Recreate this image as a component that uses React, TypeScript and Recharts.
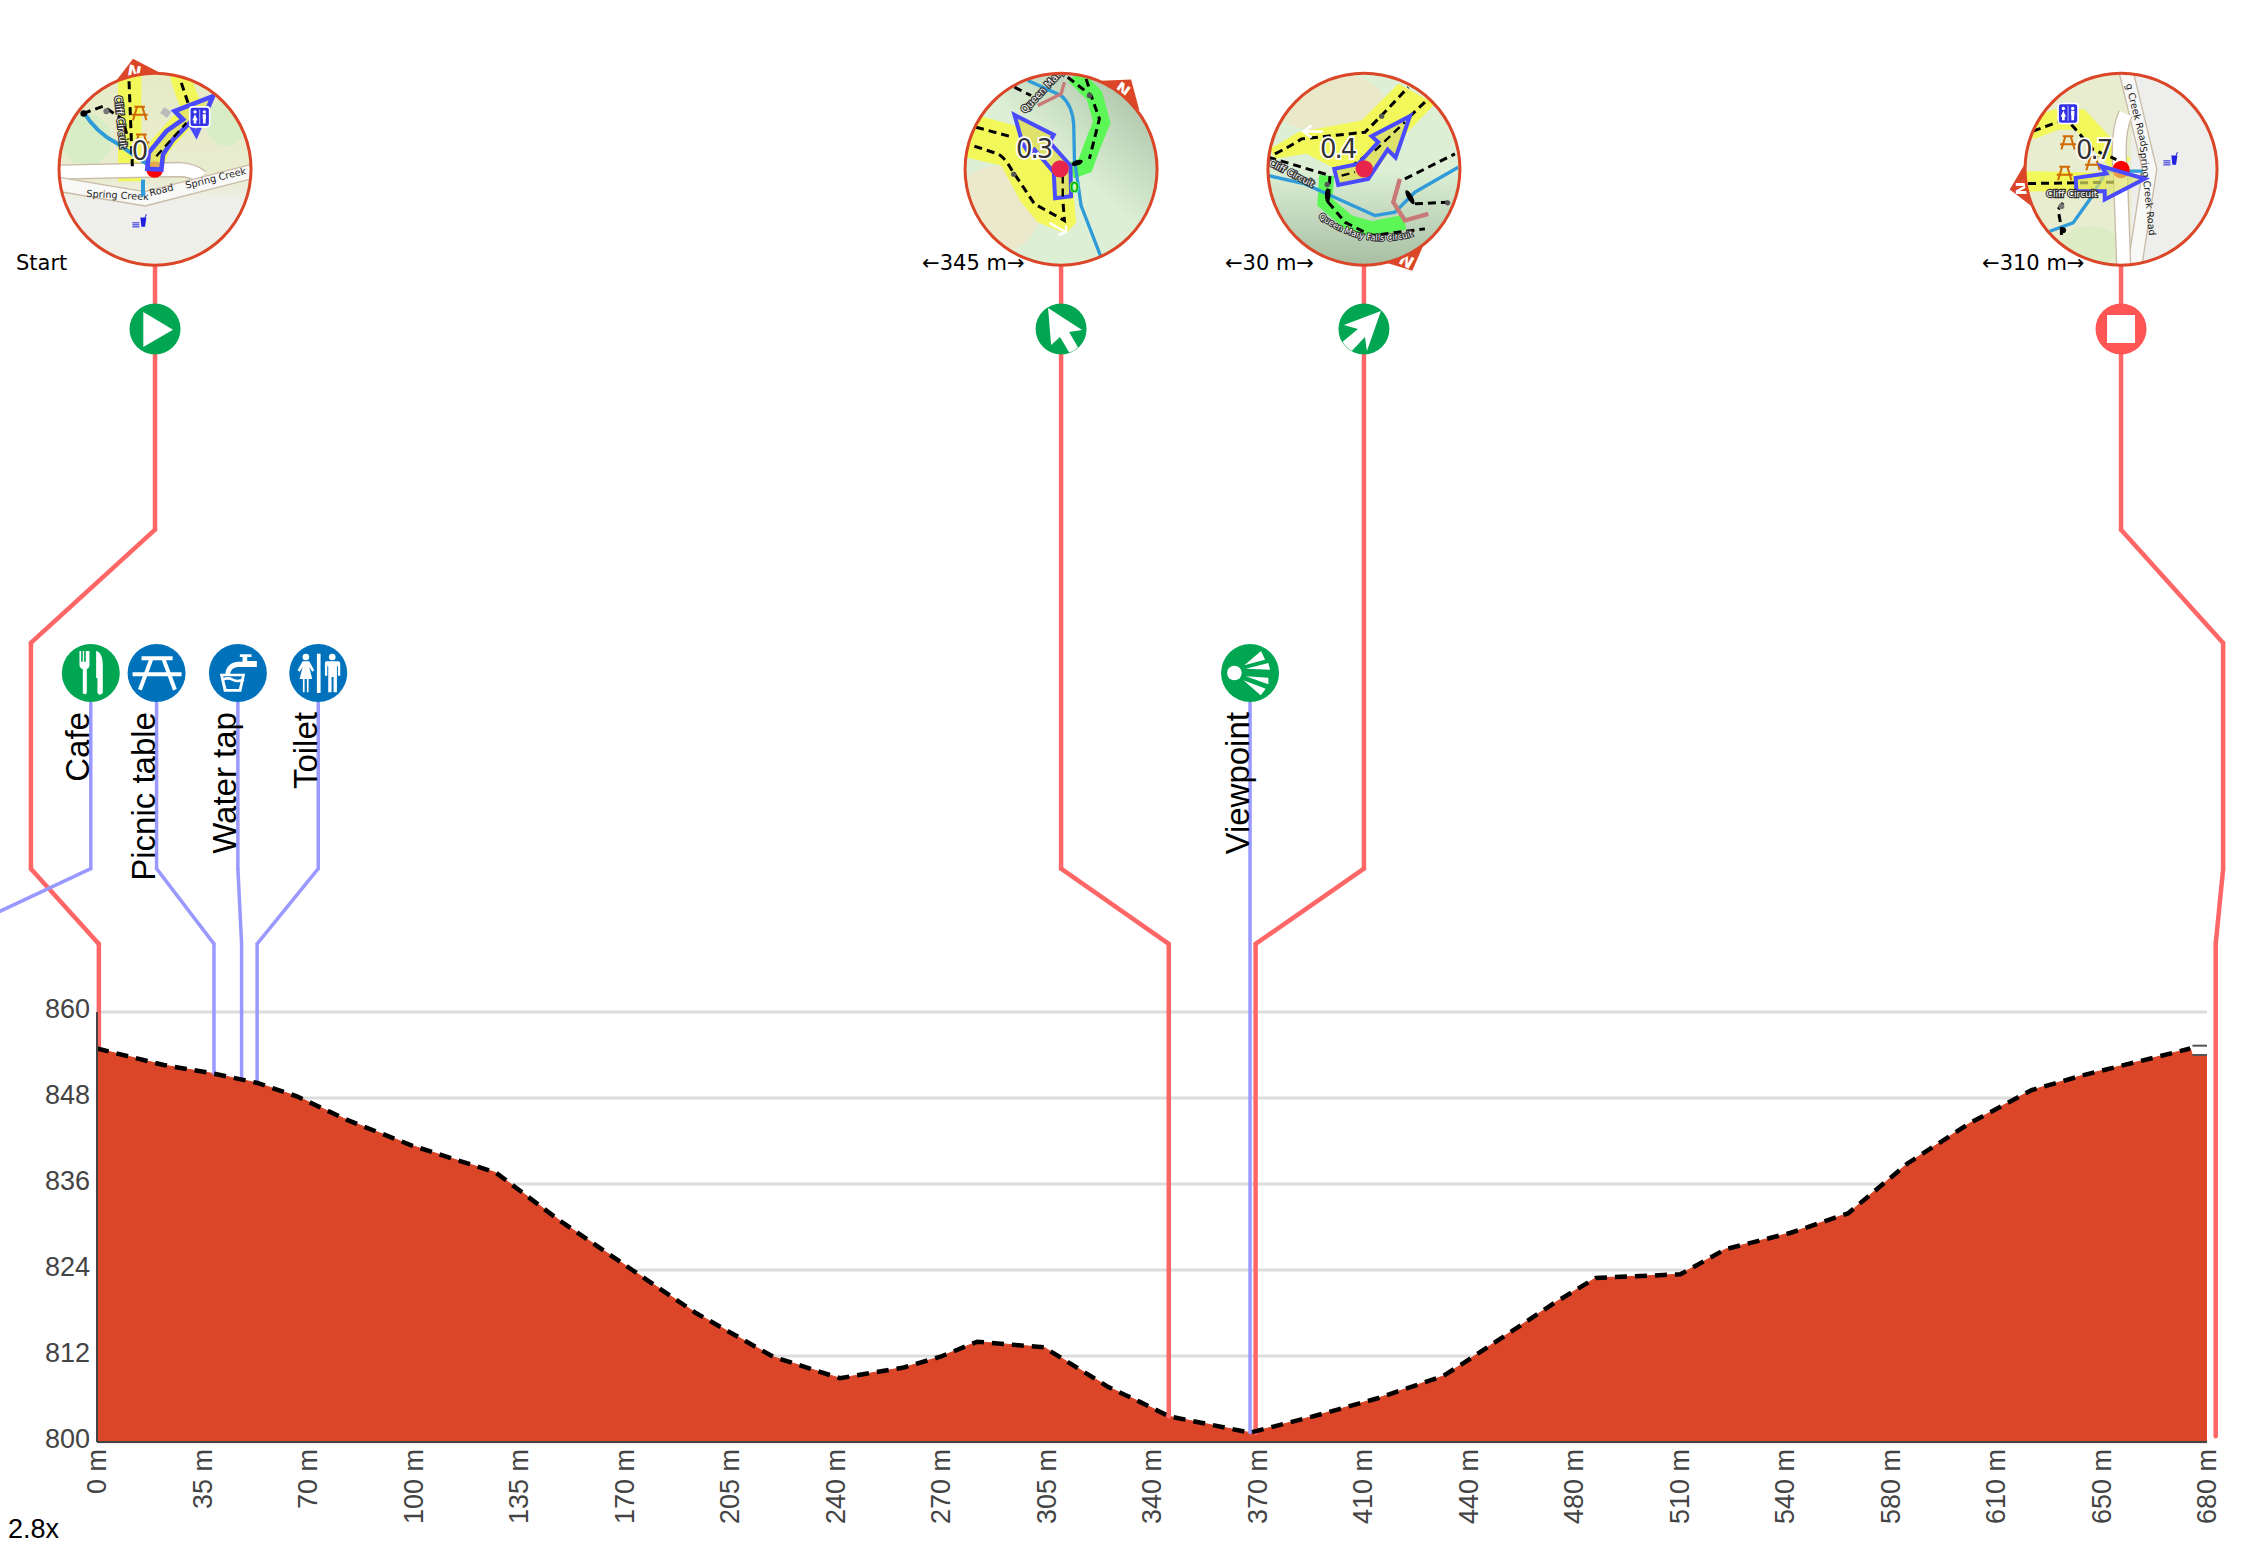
import React from "react";
import {
  Area,
  CartesianGrid,
  ComposedChart,
  Line,
  ReferenceDot,
  ReferenceLine,
  XAxis,
  YAxis,
} from "recharts";

const distances = [
  0, 21.5, 37.7, 51.7, 64.6, 80.8, 101.3, 128.5, 148.8, 172.5, 193, 217.9, 239.4, 260, 271.8, 283.7, 305.3, 325.8,
  336.1, 345.4, 371.6, 393.8, 412.7, 433.8, 439.3, 458.2, 469.3, 483, 510.3, 524.8, 545.9, 564.3, 583.6, 603.6, 623.5,
  640.2, 658, 674.6, 675.3, 680,
];
const elevations = [
  854.9, 852.6, 851.4, 850.1, 848.2, 844.9, 841.4, 837.6, 831, 824, 818, 811.9, 808.9, 810.4, 811.9, 814, 813.2, 807.7,
  805.6, 803.6, 801.3, 803.8, 806.1, 809.2, 810.7, 816.1, 819.3, 822.9, 823.4, 826.9, 829.2, 831.9, 838.9, 844.5, 849.1,
  851.2, 853.1, 854.9, 854, 854,
];
const xTicks = [0, 34, 68, 102, 136, 170, 204, 238, 272, 306, 340, 374, 408, 442, 476, 510, 544, 578, 612, 646, 680];
const xTickLabels = [
  "0 m", "35 m", "70 m", "100 m", "135 m", "170 m", "205 m", "240 m", "270 m", "305 m", "340 m", "370 m", "410 m",
  "440 m", "480 m", "510 m", "540 m", "580 m", "610 m", "650 m", "680 m",
];
const yTicks = [800, 812, 824, 836, 848, 860];

const chartData = distances.map((d, i) => ({
  d,
  elevation: elevations[i],
  ridge: i < distances.length - 2 ? elevations[i] : null,
}));

// leader lines, [metres, elevation]
const redLeaders = [
  [[18.7, 964], [18.7, 927.3], [-21.3, 911.5], [-21.3, 880], [0.6, 869.5], [0.6, 855]],
  [[310.7, 964], [310.7, 880], [345.4, 869.5], [345.4, 803.6]],
  [[408.3, 964], [408.3, 880], [373.4, 869.5], [373.4, 801.3]],
  [[652.3, 964], [652.3, 927.3], [685.2, 911.5], [685.2, 880], [682.8, 869.5], [682.8, 800.8]],
];
const poiLeaders = [
  [[-2, 907.3], [-2, 880], [-34.5, 873.4]],
  [[19.2, 907.3], [19.2, 880], [37.7, 869.5], [37.7, 851.4]],
  [[45.4, 907.3], [45.4, 880], [46.6, 869.5], [46.6, 850.7]],
  [[71.3, 907.3], [71.3, 880], [51.6, 869.5], [51.6, 850.1]],
  [[371.6, 907.3], [371.6, 801.3]],
];
const poiNames = ["Cafe", "Picnic table", "Water tap", "Toilet", "Viewpoint"];
const poiX = [-2, 19.2, 45.4, 71.3, 371.6];
const turnX = [18.7, 310.7, 408.3, 652.3];
const turnNames = ["Start", "←345 m→", "←30 m→", "←310 m→"];

const POI_Y = 907.3;
const TURN_Y = 955.3;
const MAP_Y = 977.6;

const SANS = "'Liberation Sans', Arial, sans-serif";
const DEJAVU = "'DejaVu Sans', sans-serif";
const RED = "#ff6666";
const BLUE = "#9999ff";
const ORANGE = "#da4627";
const GREEN = "#00a651";
const POI_BLUE = "#0072bc";
const YELLOW = "#f2f75a";
const LIME = "#5cf757";
const RIVER = "#2f9bd8";
const ROUTE = "#4a4aff";

function XTick({ x, y, payload }: any) {
  return (
    <text
      transform={`translate(${x},${y - 1}) rotate(-90)`}
      y={9}
      textAnchor="end"
      fontFamily={SANS}
      fontSize={27}
      fill="#444"
    >
      {xTickLabels[payload.index]}
    </text>
  );
}

function YTick({ x, y, payload }: any) {
  return (
    <text x={x + 1} y={y + 6} textAnchor="end" fontFamily={SANS} fontSize={27} fill="#444">
      {payload.value}
    </text>
  );
}

function Dash({ d, w = 9 }: any) {
  return <path d={d} fill="none" stroke="#000" strokeWidth={w} strokeDasharray="24 15" />;
}

function MapLabel({ children, ...rest }: any) {
  return (
    <text
      fontFamily={DEJAVU}
      fontSize={29}
      fill="#fff"
      stroke="#333"
      strokeWidth={7}
      paintOrder="stroke"
      {...rest}
    >
      {children}
    </text>
  );
}

function Number_({ x, y, children }: any) {
  return (
    <text
      x={x}
      y={y}
      textAnchor="middle"
      fontFamily={DEJAVU}
      fontSize={78}
      letterSpacing={-6}
      fill="#333"
      stroke="#fff"
      strokeWidth={10}
      paintOrder="stroke"
    >
      {children}
    </text>
  );
}

function Picnic({ x, y, c = "#d06a00" }: any) {
  return (
    <g transform={`translate(${x},${y})`} stroke={c} strokeWidth={6} fill="none">
      <path d="M-16 -20H16M-24 4H24M-8 -20L-20 20M8 -20L20 20" />
    </g>
  );
}

function ToiletBadge({ x, y }: any) {
  return (
    <g transform={`translate(${x},${y})`}>
      <rect x={-30} y={-30} width={60} height={60} rx={9} fill="#3333e6" stroke="#fff" strokeWidth={5} />
      <circle cx={-14} cy={-15} r={5} fill="#fff" />
      <circle cx={14} cy={-15} r={5} fill="#fff" />
      <path d="M-14 -8L-6 10H-10V20H-18V10H-22ZM9 -8H19V6H18V20H10V6H9Z" fill="#fff" />
      <path d="M0 -22V22" stroke="#fff" strokeWidth={2} />
    </g>
  );
}

function CafeBadge({ x, y }: any) {
  return (
    <g transform={`translate(${x},${y})`} fill="#2020e0">
      <path d="M0 -14H18L14 14H3Z" />
      <path d="M-24 2H-3M-24 8H-3M-24 14H-3M14 -14L18 -24" stroke="#2020e0" strokeWidth={3} />
    </g>
  );
}

// thumbnails are painted in zoomed up units (3 per pixel) around ox, oy
function Thumb({ cx, cy, ox, oy, id, pointer, back, children }: any) {
  return (
    <g transform={`translate(${cx},${cy}) scale(${1 / 3}) translate(${-ox},${-oy})`}>
      <clipPath id={id}>
        <circle cx={ox} cy={oy} r={288} />
      </clipPath>
      {pointer}
      <g clipPath={`url(#${id})`}>
        <circle cx={ox} cy={oy} r={288} fill={back} />
        {children}
      </g>
      <circle cx={ox} cy={oy} r={288} fill="none" stroke={ORANGE} strokeWidth={9} />
    </g>
  );
}

function MapStart({ cx, cy }: any) {
  return (
    <Thumb
      cx={cx}
      cy={cy}
      ox={466}
      oy={389}
      id="m0"
      back="url(#m0bg)"
      pointer={
        <g>
          <path d="M345 130L400 58L485 102Z" fill={ORANGE} />
          <text x={404} y={114} textAnchor="middle" fontFamily={DEJAVU} fontWeight="bold" fontSize={50} fill="#fff" transform="rotate(10 404 96)">N</text>
        </g>
      }
    >
      <defs>
        <linearGradient id="m0bg" x1="0" y1="0" x2="0" y2="1">
          <stop offset="0%" stopColor="#e6ebc6" />
          <stop offset="55%" stopColor="#e9ecd0" />
          <stop offset="68%" stopColor="#efefed" />
          <stop offset="100%" stopColor="#eeefe6" />
        </linearGradient>
      </defs>
      <ellipse cx={260} cy={300} rx={75} ry={80} fill="#d8ecc6" />
      <ellipse cx={680} cy={250} rx={60} ry={70} fill="#d8ecc6" />
      <path d="M390 100V425" stroke={YELLOW} strokeWidth={70} fill="none" />
      <path d="M540 100Q555 160 580 210L480 320L455 400" stroke={YELLOW} strokeWidth={62} fill="none" />
      <path d="M180 398L540 390Q580 392 605 412" stroke="#c8bba8" strokeWidth={46} fill="none" />
      <path d="M180 398L540 390Q580 392 605 412" stroke="#fff" strokeWidth={38} fill="none" />
      <path d="M180 435L435 478L760 395" stroke="#c8bba8" strokeWidth={46} fill="none" />
      <path d="M180 435L435 478L760 395" stroke="#f8f8f6" strokeWidth={38} fill="none" />
      <text x={260} y={472} fontFamily={DEJAVU} fontSize={29} fill="#222" transform="rotate(3 260 472)">Spring Creek</text>
      <text x={452} y={470} fontFamily={DEJAVU} fontSize={29} fill="#222" transform="rotate(-14 452 470)">Road</text>
      <text x={560} y={448} fontFamily={DEJAVU} fontSize={29} fill="#222" transform="rotate(-14 560 448)">Spring Creek</text>
      <path d="M250 215Q290 280 350 310L440 372M430 420V470" stroke={RIVER} strokeWidth={12} fill="none" />
      <Dash d="M388 125L398 380" />
      <Dash d="M545 130L565 190" />
      <Dash d="M250 222L310 200L370 240L385 300" />
      <circle cx={252} cy={222} r={10} fill="#000" />
      <circle cx={320} cy={215} r={9} fill="#777" />
      <rect x={485} y={208} width={26} height={22} fill="#bbb" transform="rotate(35 498 219)" />
      <Picnic x={420} y={222} />
      <Picnic x={425} y={305} />
      <MapLabel x={345} y={170} transform="rotate(84 345 170)">Cliff Circuit</MapLabel>
      <circle cx={465} cy={390} r={25} fill="#f00" />
      <path
        d="M443 388L447 340L500 275L550 240L525 215L640 170L590 285L570 250L520 300L490 345L485 390Z"
        fill="#dfe26a"
        fillOpacity={0.75}
        stroke={ROUTE}
        strokeWidth={14}
      />
      <Dash d="M470 350L560 250" w={7} />
      <ToiletBadge x={600} y={232} />
      <CafeBadge x={422} y={548} />
      <Number_ x={418} y={360}>0</Number_>
    </Thumb>
  );
}

function MapTurnA({ cx, cy }: any) {
  return (
    <Thumb
      cx={cx}
      cy={cy}
      ox={320}
      oy={331}
      id="m1"
      back="url(#m1bg)"
      pointer={
        <g>
          <path d="M440 66L530 62L555 155Z" fill={ORANGE} />
          <text x={505} y={110} textAnchor="middle" fontFamily={DEJAVU} fontWeight="bold" fontSize={50} fill="#fff" transform="rotate(35 505 92)">N</text>
        </g>
      }
    >
      <defs>
        <linearGradient id="m1bg" x1="0.95" y1="0.05" x2="0.55" y2="0.5">
          <stop offset="0%" stopColor="#a8bfa4" />
          <stop offset="100%" stopColor="#ddf0d6" />
        </linearGradient>
      </defs>
      <ellipse cx={130} cy={450} rx={130} ry={130} fill="#ece8cc" />
      <path d="M80 172L180 200L290 290L355 375L365 490L335 525L250 490L200 430L140 320L30 295L30 200Z" fill={YELLOW} />
      <path d="M360 50L420 110L442 190L412 265L392 320L350 335" stroke={LIME} strokeWidth={50} fill="none" />
      <path d="M220 65L320 110Q355 140 358 200L360 300L380 440L438 590" stroke={RIVER} strokeWidth={10} fill="none" />
      <path d="M330 70L320 105L250 140" stroke="#c97a78" strokeWidth={10} fill="none" />
      <Dash d="M65 205L175 235" />
      <Dash d="M60 262L130 285Q150 295 170 330L240 435L330 485L325 420" />
      <Dash d="M180 85L230 110" />
      <Dash d="M340 55L410 110L435 180L405 300" />
      <Dash d="M395 60L405 90" />
      <circle cx={178} cy={346} r={8} fill="#555" />
      <circle cx={405} cy={110} r={8} fill="#555" />
      <ellipse cx={368} cy={312} rx={18} ry={8} fill="#000" transform="rotate(-20 368 312)" />
      <MapLabel x={212} y={165} transform="rotate(-47 212 165)">Queen Mary</MapLabel>
      <path d="M285 492L335 520M335 500L335 520L312 528" stroke="#fff" strokeWidth={7} fill="none" />
      <path
        d="M180 168L298 228L285 250L348 320L350 412L302 418L298 340L240 272L225 285L205 255Z"
        fill="#dfe26a"
        stroke={ROUTE}
        strokeWidth={12}
      />
      <Dash d="M325 350V420" w={7} />
      <circle cx={317} cy={330} r={26} fill="#e8254a" />
      <Number_ x={238} y={298}>0.3</Number_>
      <text x={360} y={400} textAnchor="middle" fontFamily={DEJAVU} fontSize={44} fill="#0a0" stroke={LIME} strokeWidth={5} paintOrder="stroke">0</text>
    </Thumb>
  );
}

function MapTurnB({ cx, cy }: any) {
  return (
    <Thumb
      cx={cx}
      cy={cy}
      ox={317}
      oy={331}
      id="m2"
      back="url(#m2bg)"
      pointer={
        <g>
          <path d="M385 612L495 560L462 636Z" fill={ORANGE} />
          <text x={446} y={622} textAnchor="middle" fontFamily={DEJAVU} fontWeight="bold" fontSize={50} fill="#fff" transform="rotate(-150 446 605)">N</text>
        </g>
      }
    >
      <defs>
        <linearGradient id="m2bg" x1="0.5" y1="1" x2="0.5" y2="0.5">
          <stop offset="0%" stopColor="#a8bfa4" />
          <stop offset="100%" stopColor="#ddf0d6" />
        </linearGradient>
      </defs>
      <ellipse cx={210} cy={130} rx={170} ry={90} fill="#e9e8c8" />
      <path d="M35 270L120 220L310 185L420 75L530 135L400 270L350 340L240 370L230 330L145 285L50 300Z" fill={YELLOW} />
      <path d="M205 350L200 430L270 490L340 510L440 490" stroke={LIME} strokeWidth={45} fill="none" />
      <path d="M30 350L140 375L250 425L350 470L410 460L470 400L600 325" stroke={RIVER} strokeWidth={10} fill="none" />
      <path d="M425 360L405 430L440 485L510 465" stroke="#c97a78" strokeWidth={13} fill="none" />
      <Dash d="M50 285Q100 260 130 240L320 220L370 170L450 85" />
      <Dash d="M500 130L350 270L250 345" />
      <Dash d="M30 295L215 350L210 430L260 490L340 530L500 510" />
      <Dash d="M440 360L590 285" />
      <Dash d="M470 435L570 430" />
      <ellipse cx={208} cy={410} rx={22} ry={8} fill="#000" transform="rotate(90 208 410)" />
      <ellipse cx={455} cy={415} rx={24} ry={8} fill="#000" transform="rotate(60 455 415)" />
      <circle cx={370} cy={172} r={8} fill="#555" />
      <circle cx={207} cy={377} r={8} fill="#555" />
      <circle cx={568} cy={432} r={8} fill="#555" />
      <MapLabel x={30} y={318} fontSize={27} transform="rotate(27 30 318)">Cliff Circuit</MapLabel>
      <defs>
        <path id="m2road" d="M180 475Q330 590 505 518" />
      </defs>
      <MapLabel fontSize={25} strokeWidth={6}>
        <textPath href="#m2road">Queen Mary Falls Circuit</textPath>
      </MapLabel>
      <path d="M135 218H195M160 200L135 218L160 236" stroke="#fff" strokeWidth={7} fill="none" />
      <path
        d="M228 330L300 315L360 250L340 232L455 172L412 296L388 272L330 360L240 378Z"
        fill="#dfe26a"
        stroke={ROUTE}
        strokeWidth={12}
      />
      <Dash d="M250 350L290 340M350 275L440 190" w={7} />
      <circle cx={318} cy={330} r={26} fill="#e8254a" />
      <Number_ x={238} y={298}>0.4</Number_>
    </Thumb>
  );
}

function MapEnd({ cx, cy }: any) {
  return (
    <Thumb
      cx={cx}
      cy={cy}
      ox={514}
      oy={389}
      id="m3"
      back="#e9edd0"
      pointer={
        <g>
          <path d="M226 372L180 450L248 502Z" fill={ORANGE} />
          <text x={216} y={465} textAnchor="middle" fontFamily={DEJAVU} fontWeight="bold" fontSize={50} fill="#fff" transform="rotate(-90 216 447)">N</text>
        </g>
      }
    >
      <rect x={545} y={90} width={270} height={600} fill="#eeefed" />
      <ellipse cx={420} cy={620} rx={90} ry={60} fill="#dcecc4" />
      <path d="M240 270L320 240L390 240L520 380" stroke={YELLOW} strokeWidth={62} fill="none" />
      <path d="M225 425L470 430" stroke={YELLOW} strokeWidth={60} fill="none" />
      <path d="M530 100L600 390L555 680" stroke="#c8bba8" strokeWidth={46} fill="none" />
      <path d="M530 100L600 390L555 680" stroke="#f8f8f6" strokeWidth={38} fill="none" />
      <path d="M528 222Q500 280 512 400L522 680" stroke="#c8bba8" strokeWidth={46} fill="none" />
      <path d="M528 222Q500 280 512 400L522 680" stroke="#fff" strokeWidth={38} fill="none" />
      <path d="M300 575L370 550L420 480L470 395L580 395" stroke={RIVER} strokeWidth={10} fill="none" />
      <Dash d="M250 275L330 245" />
      <Dash d="M365 255L430 330L500 360" />
      <Dash d="M235 432L500 428" />
      <Dash d="M340 490L325 510L335 565L335 595" />
      <circle cx={340} cy={572} r={9} fill="#000" />
      <circle cx={335} cy={500} r={9} fill="#777" />
      <Picnic x={355} y={310} />
      <Picnic x={430} y={372} />
      <Picnic x={345} y={402} />
      <ToiletBadge x={355} y={222} />
      <CafeBadge x={665} y={362} />
      <text x={528} y={135} fontFamily={DEJAVU} fontSize={29} fill="#222" transform="rotate(76 528 135)">g Creek Road</text>
      <text x={570} y={322} fontFamily={DEJAVU} fontSize={29} fill="#222" transform="rotate(84 570 322)">Spring Creek Road</text>
      <circle cx={514} cy={390} r={26} fill="#f00" />
      <path
        d="M378 415L470 402L455 380L585 418L465 480L465 455L380 455Z"
        fill="#dfe26a"
        fillOpacity={0.7}
        stroke={ROUTE}
        strokeWidth={12}
      />
      <MapLabel x={290} y={472} fontSize={28}>Cliff Circuit</MapLabel>
      <Number_ x={432} y={358}>0.7</Number_>
    </Thumb>
  );
}

const mapShapes = [MapStart, MapTurnA, MapTurnB, MapEnd];

function TurnIcon({ cx, cy, index }: any) {
  const fill = index === 3 ? "#ff5555" : GREEN;
  const id = `ti${index}`;
  return (
    <g transform={`translate(${cx},${cy})`}>
      <clipPath id={id}>
        <circle r={25} />
      </clipPath>
      <circle r={25.5} fill={fill} />
      <g clipPath={`url(#${id})`} fill="#fff">
        {index === 0 && <path d="M-11.7 -17L18 0.7L-11.7 18Z" />}
        {index === 1 && <path d="M-13 -21L21 1L8 3L19 22L9 25L-1 8L-10 16Z" />}
        {index === 2 && <path d="M17 -18L-20 -4L-6 0L-24 15L-15 25L1 8L3 22Z" />}
        {index === 3 && <rect x={-14} y={-14} width={28} height={28} />}
      </g>
    </g>
  );
}

function PoiIcon({ cx, cy, index }: any) {
  const fill = index === 0 || index === 4 ? GREEN : POI_BLUE;
  return (
    <g transform={`translate(${cx},${cy}) scale(${1 / 3})`}>
      <circle r={87} fill={fill} />
      <g fill="#fff" stroke="none">
        {index === 0 && (
          <g>
            <path d="M-34 -66H-29V-34H-24V-66H-20V-34H-15V-66H-4V-25Q-4 -15 -12 -12V60Q-18 68 -24 60V-12Q-34 -15 -34 -25Z" />
            <path d="M16 -66Q36 -62 36 -20V60Q26 70 20 60V15H16Z" />
          </g>
        )}
        {index === 1 && (
          <g stroke="#fff" fill="none" strokeWidth={12}>
            <path d="M-45 -44H48M-72 4H75M-15 -44L-50 50M20 -44L55 50" />
          </g>
        )}
        {index === 2 && (
          <g>
            <path d="M6 -56H41V-48H28V-36H57V-18H0Q-22 -16 -24 6H-38Q-36 -30 0 -34H14V-48H6Z" />
            <path d="M-54 2H22L10 56H-42Z M-44 10L-34 48H3L12 10Z" fillRule="evenodd" />
            <path d="M-46 16Q-28 8 -16 16T18 16V24Q-2 32 -16 24T-44 24Z" />
          </g>
        )}
        {index === 3 && (
          <g>
            <rect x={-4} y={-58} width={11} height={118} />
            <circle cx={-37} cy={-48} r={10} />
            <path d="M-47 -35H-27L-12 -8L-18 -4L-27 -18L-18 18H-29V58H-34V18H-41V58H-46V18H-56L-47 -18L-56 -4L-62 -8Z" />
            <circle cx={42} cy={-48} r={10} />
            <path d="M24 -35H60Q66 -35 66 -28V8H59V-20H56V58H46V12H40V58H30V-20H27V8H20V-28Q20 -35 24 -35Z" />
          </g>
        )}
        {index === 4 && (
          <g>
            <circle cx={-47} cy={0} r={22} />
            <path d="M-17 -23L33 -66L45 -40Z" />
            <path d="M-13 -13L55 -30L60 -10Z" />
            <path d="M-13 10L55 14L55 34Z" />
            <path d="M-20 22L47 47L32 67Z" />
          </g>
        )}
      </g>
    </g>
  );
}

function Leaders({ paths, stroke, width }: any) {
  return paths.flatMap((path: number[][], p: number) =>
    path.slice(1).map((pt, i) => (
      <ReferenceLine
        key={`${stroke}-${p}-${i}`}
        segment={[
          { x: path[i][0], y: path[i][1] },
          { x: pt[0], y: pt[1] },
        ]}
        stroke={stroke}
        strokeWidth={width}
        strokeLinecap="round"
        ifOverflow="visible"
      />
    ))
  );
}

export default function App() {
  return (
    <div style={{ position: "absolute", left: 0, top: 0, width: 2246, height: 1549, overflow: "hidden" }}>
      <ComposedChart
        width={2246}
        height={1549}
        data={chartData}
        margin={{ top: 1012, right: 39, bottom: 0, left: 0 }}
      >
        <CartesianGrid horizontal vertical={false} stroke="#dddddd" strokeWidth={3} />
        <XAxis
          dataKey="d"
          type="number"
          domain={[0, 680]}
          ticks={xTicks}
          interval={0}
          height={107}
          tick={<XTick />}
          tickLine={false}
          axisLine={{ stroke: "#444", strokeWidth: 2 }}
        />
        <YAxis
          type="number"
          domain={[800, 860]}
          ticks={yTicks}
          interval={0}
          width={97}
          tick={<YTick />}
          tickLine={false}
          axisLine={{ stroke: "#444", strokeWidth: 2 }}
        />
        {Leaders({ paths: redLeaders, stroke: RED, width: 4.5 })}
        {Leaders({ paths: poiLeaders, stroke: BLUE, width: 3.5 })}
        <Area
          dataKey="elevation"
          type="linear"
          fill={ORANGE}
          fillOpacity={1}
          stroke={ORANGE}
          strokeWidth={1}
          isAnimationActive={false}
        />
        <Line
          dataKey="ridge"
          type="linear"
          stroke="#000"
          strokeWidth={4.5}
          strokeDasharray="12 8"
          dot={false}
          isAnimationActive={false}
        />
        <ReferenceLine
          segment={[{ x: 675.3, y: 855.3 }, { x: 680, y: 855.3 }]}
          stroke="#555"
          strokeWidth={2}
          ifOverflow="visible"
        />
        <ReferenceLine
          segment={[{ x: 675.3, y: 854 }, { x: 680, y: 854 }]}
          stroke="#555"
          strokeWidth={2}
          ifOverflow="visible"
        />
        {turnX.map((x, i) => {
          const MapShape = mapShapes[i];
          return (
            <ReferenceDot
              key={`map-${i}`}
              x={x}
              y={MAP_Y}
              r={1}
              ifOverflow="visible"
              shape={(p: any) => (
                <g>
                  <MapShape cx={p.cx} cy={p.cy} />
                  <text x={p.cx - 139} y={p.cy + 100.5} fontFamily={DEJAVU} fontSize={21} fill="#000">
                    {turnNames[i]}
                  </text>
                </g>
              )}
            />
          );
        })}
        {turnX.map((x, i) => (
          <ReferenceDot
            key={`turn-${i}`}
            x={x}
            y={TURN_Y}
            r={1}
            ifOverflow="visible"
            shape={(p: any) => <TurnIcon cx={p.cx} cy={p.cy} index={i} />}
          />
        ))}
        {poiX.map((x, i) => (
          <ReferenceDot
            key={`poi-${i}`}
            x={x}
            y={POI_Y}
            r={1}
            ifOverflow="visible"
            shape={(p: any) => (
              <g>
                <PoiIcon cx={p.cx} cy={p.cy} index={i} />
                <text
                  transform={`translate(${p.cx - 1.5},${p.cy + 39}) rotate(-90)`}
                  textAnchor="end"
                  fontFamily={SANS}
                  fontSize={33}
                  fill="#000"
                >
                  {poiNames[i]}
                </text>
              </g>
            )}
          />
        ))}
      </ComposedChart>
      <div
        style={{
          position: "absolute",
          left: 8,
          top: 1514,
          fontFamily: SANS,
          fontSize: 27,
          lineHeight: "30px",
          color: "#000",
        }}
      >
        2.8x
      </div>
    </div>
  );
}
